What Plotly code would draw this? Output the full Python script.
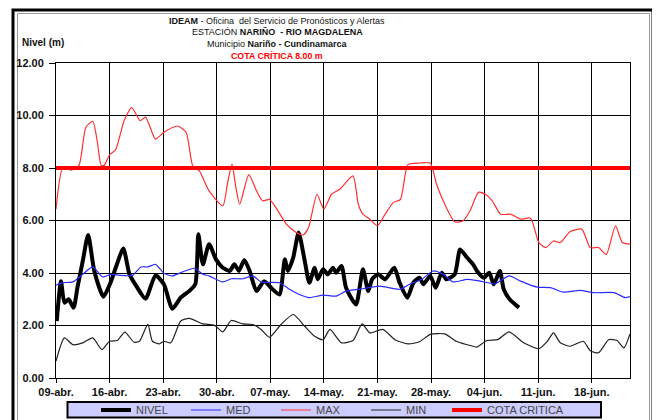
import plotly.graph_objects as go
import pandas as pd

BASE = pd.Timestamp("2019-04-09")

# day offsets (days since 09-abr) and values (m)
NIVEL_DIA = [0.1, 0.65, 1.1, 1.65, 2.3, 2.8, 3.5, 4.2, 5, 6.2, 7.2, 7.8, 8.8, 9.6, 10.5, 11.7, 13, 14.1, 15.2, 16.3,
             17.4, 18.2, 18.6, 19.2, 20, 20.9, 21.8, 22.7, 23.3, 23.9, 24.6, 25.3, 26.2, 27.2, 28.3, 29.2, 29.9, 30.3,
             31, 31.7, 32.5, 33.1, 33.8, 34.2, 34.9, 35.5, 36.2, 36.6, 37.3, 37.9, 39.2, 40.1, 40.8, 41.3, 42.1, 43,
             44.2, 44.9, 45.9, 46.7, 47.5, 48, 48.9, 49.6, 50.4, 51, 52.1, 52.8, 53.7, 54.5, 55, 55.9, 56.6, 57.2, 58,
             58.5, 59.3, 60.5]
NIVEL_VAL = [2.17, 3.69, 2.87, 3.0, 2.68, 3.44, 4.46, 5.45, 4.08, 3.1, 3.69, 4.2, 4.93, 3.95, 3.5, 3.02, 3.91, 3.57,
             2.64, 3.06, 3.31, 3.57, 5.48, 4.33, 5.1, 4.52, 4.2, 4.08, 4.33, 4.08, 4.5, 4.08, 3.31, 3.69, 3.38, 3.18,
             4.52, 4.08, 4.59, 5.54, 4.46, 3.63, 4.2, 3.76, 4.14, 3.95, 4.2, 4.01, 4.27, 3.44, 2.8, 4.14, 3.31, 3.76,
             3.95, 3.76, 4.2, 3.63, 3.06, 3.63, 3.82, 3.57, 3.89, 3.44, 4.01, 3.76, 3.95, 4.9, 4.59, 4.33, 4.08, 3.82,
             4.01, 3.57, 4.08, 3.38, 2.99, 2.68]

MED_DIA = [0, 0.9, 2.2, 3.5, 4.8, 6.1, 7.2, 8.3, 10, 11.1, 12, 13, 14.1, 15.2, 16.5, 18.1, 19.2, 20, 21.8, 22.9, 24.4,
           25.7, 26.8, 29.2, 30.5, 31.8, 33.1, 34.9, 36.6, 37.9, 40.1, 42.3, 44.9, 46.2, 47.8, 49.3, 50.6, 51.9, 53.7,
           55.4, 57.4, 59.2, 60.7, 62.9, 64.6, 66.3, 68.5, 70.3, 72.9, 74.4, 75]
MED_VAL = [3.54, 3.63, 3.66, 3.95, 4.23, 3.85, 3.95, 3.91, 3.91, 4.23, 4.23, 4.33, 3.99, 3.89, 4.04, 4.18, 3.95, 3.89,
           3.66, 3.78, 3.78, 3.89, 3.66, 3.63, 3.38, 3.18, 3.06, 3.16, 3.12, 3.31, 3.4, 3.5, 3.38, 3.57, 3.76, 4.08,
           3.95, 3.66, 3.76, 3.69, 3.59, 3.89, 3.69, 3.46, 3.44, 3.27, 3.34, 3.25, 3.25, 3.06, 3.1]

MAX_DIA = [0, 0.9, 2, 3, 3.9, 4.8, 5.4, 5.9, 6.3, 7, 7.8, 8.9, 9.9, 11, 11.7, 13, 14.1, 15.9, 17, 17.9, 18.7, 20, 21.8,
           22.4, 23, 23.5, 24, 25.2, 26.2, 27, 27.9, 29, 30.1, 31.4, 32.3, 33, 34.1, 35, 36, 37.1, 38.8, 39.5, 40.1,
           41, 42, 43, 44.1, 45, 46, 47.6, 48.9, 49.7, 50.8, 52.1, 53.2, 54.1, 55.2, 56.1, 57, 58.1, 59.4, 60.7, 62,
           63.1, 64, 65, 65.9, 67.2, 68.7, 69.8, 70.9, 71.9, 73.1, 74, 75]
MAX_VAL = [6.43, 8.0, 7.92, 8.1, 9.55, 9.78, 9.0, 8.1, 8.1, 8.5, 8.7, 9.8, 10.3, 9.8, 9.94, 9.1, 9.36, 9.6, 9.36, 8.05,
           7.9, 7.13, 6.56, 7.4, 8.15, 7.26, 6.62, 7.75, 7.13, 6.75, 6.8, 6.37, 5.86, 5.54, 5.45, 5.73, 7.0, 6.43, 7.0,
           7.2, 7.7, 6.62, 6.24, 6.05, 5.8, 6.24, 6.69, 6.8, 8.13, 8.19, 8.19, 7.4, 6.62, 5.95, 5.99, 6.37, 7.07, 7.0,
           6.75, 6.24, 6.24, 6.05, 6.09, 5.16, 4.97, 5.22, 5.16, 5.58, 5.67, 4.97, 4.97, 4.71, 5.8, 5.16, 5.1]

MIN_DIA = [0, 1.1, 2.2, 3.5, 4.8, 6, 7, 8, 9, 10.2, 10.9, 12, 12.6, 13.5, 14.1, 15, 16.3, 17.4, 19.2, 20.7, 21.8, 22.9,
           24.4, 25.7, 26.8, 27.9, 29.4, 31, 32.5, 33.8, 34.9, 35.8, 37.3, 38.8, 40, 41, 42.7, 44.3, 46, 47.5, 48.9,
           50.8, 52.3, 54.5, 55, 56.3, 57.7, 59.2, 61.1, 63.1, 64.2, 65, 65.9, 67.2, 68.9, 69.8, 70.9, 72.2, 73.3,
           74.2, 75]
MIN_VAL = [0.64, 1.53, 1.27, 1.34, 1.53, 1.08, 1.4, 1.43, 1.75, 1.36, 1.4, 2.04, 1.4, 1.3, 1.4, 1.34, 2.17, 2.27, 2.06,
           2.01, 1.76, 2.19, 2.06, 2.04, 1.85, 1.55, 2.04, 2.42, 1.97, 1.59, 1.46, 1.85, 1.34, 1.43, 2.06, 1.72, 1.85,
           1.46, 1.3, 1.38, 1.66, 1.68, 1.4, 1.21, 1.18, 1.43, 1.46, 1.76, 1.34, 1.12, 1.4, 1.72, 1.34, 1.21, 1.4,
           1.04, 0.96, 1.46, 1.43, 1.15, 1.68]

COTA_CRITICA = 8.00
COTA_DIA = [0, 75]

TICK_DIA = [0, 7, 14, 21, 28, 35, 42, 49, 56, 63, 70]
TICK_TEXT = ["09-abr.", "16-abr.", "23-abr.", "30-abr.", "07-may.", "14-may.", "21-may.", "28-may.",
             "04-jun.", "11-jun.", "18-jun."]
X_RANGE_DIA = [0, 75]


def fechas(dias):
    return [BASE + pd.Timedelta(days=d) for d in dias]


FONT = "Arial, 'Liberation Sans', sans-serif"

fig = go.Figure()
fig.add_trace(go.Scatter(x=fechas(NIVEL_DIA), y=NIVEL_VAL, name="NIVEL", mode="lines", legend="legend",
                         line=dict(color="#000000", width=4, shape="spline", smoothing=0.6)))
fig.add_trace(go.Scatter(x=fechas(MED_DIA), y=MED_VAL, name="MED", mode="lines", legend="legend",
                         line=dict(color="#2a2aff", width=1.2, shape="spline", smoothing=0.6)))
fig.add_trace(go.Scatter(x=fechas(MAX_DIA), y=MAX_VAL, name="MAX", mode="lines", legend="legend",
                         line=dict(color="#ff3030", width=1.2, shape="spline", smoothing=0.6)))
fig.add_trace(go.Scatter(x=fechas(MIN_DIA), y=MIN_VAL, name="MIN", mode="lines", legend="legend",
                         line=dict(color="#222222", width=1.2, shape="spline", smoothing=0.6)))
fig.add_trace(go.Scatter(x=fechas(COTA_DIA), y=[COTA_CRITICA] * len(COTA_DIA), name="COTA CRITICA", mode="lines",
                         legend="legend2", line=dict(color="#ff0000", width=4)))

# page body has an 8px margin: figure is drawn 8px right/down of the window corner
OFF = 8
W, H = 660 - OFF, 420 - OFF
L, T = 56 - OFF, 63 - OFF
PW, PH = 574, 315
R, B = W - L - PW, H - T - PH


def px(xs):
    """screen x (window pixels) -> paper fraction"""
    return (xs - OFF - L) / PW


def py(ys):
    """screen y (window pixels) -> paper fraction"""
    return (H - B - (ys - OFF)) / PH


shapes = [
    # outer frame
    dict(type="rect", xref="paper", yref="paper", x0=px(13), x1=px(653), y0=py(440), y1=py(10),
         line=dict(color="#000000", width=3), fillcolor="rgba(0,0,0,0)", layer="below"),
    dict(type="rect", xref="paper", yref="paper", x0=px(17.5), x1=px(649.5), y0=py(440), y1=py(13.5),
         line=dict(color="#9a9a9a", width=1), fillcolor="rgba(0,0,0,0)", layer="below"),
    # legend box
    dict(type="rect", xref="paper", yref="paper", x0=px(67.5), x1=px(601), y0=py(417.5), y1=py(402),
         line=dict(color="#000000", width=2), fillcolor="#ccccff", layer="below"),
]

TS = 9.0
annotations = [
    dict(text="<b>IDEAM</b> - Oficina  del Servicio de Pronósticos y Alertas", x=px(277), y=py(21)),
    dict(text="ESTACIÓN <b>NARIÑO  - RIO MAGDALENA</b>", x=px(277), y=py(32.5)),
    dict(text="Municipio <b>Nariño - Cundinamarca</b>", x=px(277), y=py(44)),
]
annotations = [dict(a, xref="paper", yref="paper", showarrow=False, xanchor="center", yanchor="middle",
                    font=dict(family=FONT, size=TS, color="#111111")) for a in annotations]
annotations.append(dict(text="<b>COTA CRÍTICA 8.00 m</b>", x=px(277), y=py(55.5), xref="paper", yref="paper",
                        showarrow=False, xanchor="center", yanchor="middle",
                        font=dict(family=FONT, size=8.8, color="#ff0000")))
annotations.append(dict(text="<b>Nivel (m)</b>", x=px(20), y=py(42), xref="paper", yref="paper",
                        showarrow=False, xanchor="left", yanchor="middle",
                        font=dict(family=FONT, size=10, color="#111111")))

LEG_FONT = dict(family=FONT, size=11, color="#444444")
fig.update_layout(
    width=W, height=H,
    margin=dict(l=L, r=R, t=T, b=B, pad=0, autoexpand=False),
    paper_bgcolor="#ffffff", plot_bgcolor="#ffffff",
    font=dict(family=FONT, size=11, color="#111111"),
    showlegend=True,
    legend=dict(orientation="h", x=px(96), xanchor="left", y=py(410), yanchor="middle",
                bgcolor="rgba(0,0,0,0)", borderwidth=0, entrywidth=45, entrywidthmode="pixels",
                itemwidth=30, font=LEG_FONT),
    legend2=dict(orientation="h", x=px(447), xanchor="left", y=py(410), yanchor="middle",
                 bgcolor="rgba(0,0,0,0)", borderwidth=0, itemwidth=30, font=LEG_FONT),
    shapes=shapes,
    annotations=annotations,
    xaxis=dict(type="date", range=fechas(X_RANGE_DIA), tickvals=fechas(TICK_DIA), ticktext=TICK_TEXT,
               showgrid=True, gridcolor="#000000", gridwidth=1, showline=True, linecolor="#000000",
               linewidth=1, mirror=True, ticks="outside", ticklen=4, tickcolor="#000000", automargin=False,
               tickfont=dict(family=FONT, size=11, color="#111111", weight="bold"), zeroline=False),
    yaxis=dict(range=[0, 12], dtick=2, tickformat=".2f", showgrid=True, gridcolor="#000000", gridwidth=1,
               showline=True, linecolor="#000000", linewidth=1, mirror=True, ticks="outside", ticklen=6,
               ticklabelstandoff=3, automargin=False,
               tickcolor="#000000", tickfont=dict(family=FONT, size=11, color="#111111", weight="bold"),
               zeroline=False),
)

fig.write_html("out.html")
